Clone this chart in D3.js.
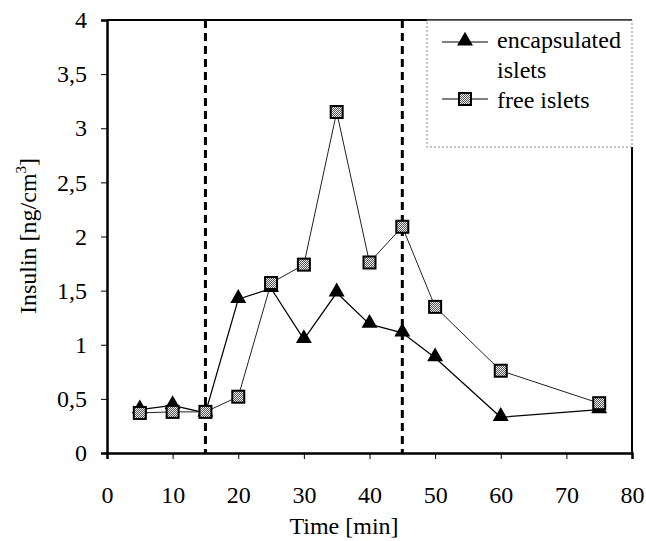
<!DOCTYPE html>
<meta charset="utf-8">
<html>
<head>
<script type="text/javascript" src="https://d3js.org/d3.v7.js"></script>
</head>
<body style="margin:0">
<script>
  // data
  const times = [5, 10, 15, 20, 25, 30, 35, 40, 45, 50, 60, 75];
  const encapsulated = [0.40, 0.44, 0.37, 1.42, 1.52, 1.05, 1.48, 1.19, 1.11, 0.88, 0.33, 0.40];
  const freeIslets = [0.37, 0.38, 0.38, 0.52, 1.57, 1.74, 3.15, 1.76, 2.09, 1.35, 0.76, 0.46];
  const stimulus = [15, 45];
  const xTicks = [0, 10, 20, 30, 40, 50, 60, 70, 80];
  const yTicks = [0, 0.5, 1, 1.5, 2, 2.5, 3, 3.5, 4];

  const W = 646, H = 541;
  const margin = {top: 20, right: 14, bottom: 88, left: 107};
  const width = W - margin.left - margin.right,
        height = H - margin.top - margin.bottom;

  const svg = d3.select("body").append("svg")
    .attr("width", W).attr("height", H);

  // checker pattern for the square markers
  const defs = svg.append("defs");
  const pat = defs.append("pattern").attr("id", "checker")
    .attr("width", 2).attr("height", 2).attr("patternUnits", "userSpaceOnUse");
  pat.append("rect").attr("width", 2).attr("height", 2).attr("fill", "#eee");
  pat.append("rect").attr("width", 1).attr("height", 1).attr("fill", "#555");
  pat.append("rect").attr("x", 1).attr("y", 1).attr("width", 1).attr("height", 1).attr("fill", "#555");

  const g = svg.append("g").attr("transform", `translate(${margin.left},${margin.top})`);

  const x = d3.scaleLinear().domain([0, 80]).range([0, width]);
  const y = d3.scaleLinear().domain([0, 4]).range([height, 0]);

  const comma = d => String(d).replace(".", ",");

  // axes
  const xAxis = g.append("g").attr("transform", `translate(0,${height})`)
    .call(d3.axisBottom(x).tickValues(xTicks).tickSize(6).tickPadding(27).tickFormat(d => d));
  const yAxis = g.append("g")
    .call(d3.axisLeft(y).tickValues(yTicks).tickSize(6).tickPadding(14).tickFormat(comma));
  [xAxis, yAxis].forEach(a => {
    a.attr("font-family", null).attr("font-size", null);
    a.select(".domain").attr("stroke", "black").attr("stroke-width", 2.5);
    a.selectAll(".tick line").attr("stroke", "black").attr("stroke-width", 1);
    a.selectAll("text").style("font-size", "24px").attr("fill", "black");
  });

  // frame top and right
  g.append("line").attr("x1", 0).attr("x2", width).attr("y1", 0).attr("y2", 0)
    .attr("stroke", "black").attr("stroke-width", 2);
  g.append("line").attr("x1", width).attr("x2", width).attr("y1", 127).attr("y2", height)
    .attr("stroke", "black").attr("stroke-width", 2);

  // stimulus dashed lines
  g.selectAll(".stim").data(stimulus).enter().append("line")
    .attr("x1", d => x(d)).attr("x2", d => x(d))
    .attr("y1", 0).attr("y2", height)
    .attr("stroke", "black").attr("stroke-width", 3)
    .attr("stroke-dasharray", "8,5");

  const line = d3.line().x(d => x(d[0])).y(d => y(d[1]));
  const encData = d3.zip(times, encapsulated);
  const freeData = d3.zip(times, freeIslets);

  const tri = d3.symbol().type(d3.symbolTriangle).size(110);

  g.append("path").datum(encData).attr("d", line)
    .attr("fill", "none").attr("stroke", "black").attr("stroke-width", 1.2);
  g.append("path").datum(freeData).attr("d", line)
    .attr("fill", "none").attr("stroke", "#222").attr("stroke-width", 1);

  g.selectAll(".tri").data(encData).enter().append("path")
    .attr("d", tri)
    .attr("transform", d => `translate(${x(d[0])},${y(d[1]) - 1})`)
    .attr("fill", "black");

  const s = 12;
  g.selectAll(".sq").data(freeData).enter().append("rect")
    .attr("x", d => x(d[0]) - s / 2).attr("y", d => y(d[1]) - s / 2)
    .attr("width", s).attr("height", s)
    .attr("fill", "url(#checker)").attr("stroke", "black").attr("stroke-width", 2);

  // legend
  const lg = svg.append("g");
  lg.append("rect").attr("x", 427).attr("y", 20).attr("width", 205).attr("height", 127)
    .attr("fill", "white").attr("stroke", "#888").attr("stroke-width", 1)
    .attr("stroke-dasharray", "2,2");
  svg.append("line").attr("x1", 427).attr("x2", 632).attr("y1", 20).attr("y2", 20)
    .attr("stroke", "#444").attr("stroke-width", 1.5);
  lg.append("line").attr("x1", 442).attr("x2", 488).attr("y1", 42).attr("y2", 42)
    .attr("stroke", "black").attr("stroke-width", 1);
  lg.append("path").attr("d", tri).attr("transform", "translate(465,41)").attr("fill", "black");
  lg.append("line").attr("x1", 442).attr("x2", 488).attr("y1", 99).attr("y2", 99)
    .attr("stroke", "black").attr("stroke-width", 1);
  lg.append("rect").attr("x", 459).attr("y", 93).attr("width", s).attr("height", s)
    .attr("fill", "url(#checker)").attr("stroke", "black").attr("stroke-width", 2);
  lg.append("text").attr("x", 497).attr("y", 48).style("font-size", "24px").text("encapsulated");
  lg.append("text").attr("x", 497).attr("y", 78).style("font-size", "24px").text("islets");
  lg.append("text").attr("x", 497).attr("y", 108).style("font-size", "24px").text("free islets");

  // axis titles
  svg.append("text").attr("x", 344).attr("y", 534)
    .attr("text-anchor", "middle").style("font-size", "24px").text("Time [min]");
  const yt = svg.append("text")
    .attr("transform", "translate(36,236) rotate(-90)")
    .attr("text-anchor", "middle").style("font-size", "24px");
  yt.append("tspan").text("Insulin [ng/cm");
  yt.append("tspan").attr("dy", -10).style("font-size", "15px").text("3");
  yt.append("tspan").attr("dy", 10).text("]");

  // every text in the serif face
  svg.selectAll("text").style("font-family", '"Liberation Serif", monospace');
</script>
</body>
</html>
